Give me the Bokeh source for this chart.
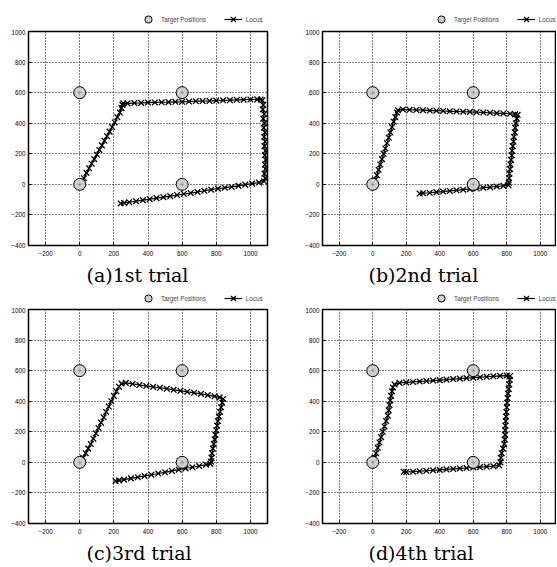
from bokeh.plotting import figure
from bokeh.layouts import column, row
from bokeh.models import FixedTicker, Legend, LegendItem, Range1d
from bokeh.embed import file_html
from bokeh.resources import INLINE

# ---------------- data ----------------
target_x = [0, 600, 0, 600]
target_y = [600, 600, 0, 0]

x_ticks = [-200, 0, 200, 400, 600, 800, 1000]
y_ticks = [-400, -200, 0, 200, 400, 600, 800, 1000]

captions = ["(a)1st trial", "(b)2nd trial", "(c)3rd trial", "(d)4th trial"]
legend_labels = ["Target Positions", "Locus"]

trial1_x = [5, 0, 10, 25, 40, 55, 70, 85, 100, 115, 130, 145, 160, 175, 190, 205, 220, 235, 245, 250, 255,
            280, 320, 360, 400, 440, 480, 520, 560, 600, 640, 680, 720, 760, 800, 840, 880, 920, 960, 1000, 1040, 1060, 1070,
            1075, 1072, 1080, 1075, 1082, 1078, 1085, 1080, 1086, 1082, 1088, 1084, 1090, 1085, 1088, 1082, 1086, 1080,
            1050, 1010, 970, 930, 890, 850, 810, 770, 730, 690, 650, 610, 570, 530, 490, 450, 410, 370, 330, 290, 260, 240]
trial1_y = [-15, -5, 10, 40, 75, 105, 135, 165, 195, 225, 255, 285, 315, 345, 375, 405, 440, 470, 500, 520, 530,
            530, 532, 533, 535, 536, 537, 538, 540, 540, 542, 544, 545, 546, 548, 550, 551, 553, 554, 555, 556, 555, 550,
            520, 490, 460, 430, 400, 370, 340, 310, 280, 250, 220, 190, 160, 130, 100, 70, 40, 20,
            12, 5, -2, -10, -17, -22, -28, -35, -42, -50, -57, -63, -70, -77, -84, -90, -97, -103, -110, -117, -122, -125]

trial2_x = [10, 0, 15, 25, 35, 45, 55, 65, 75, 85, 95, 105, 115, 125, 135, 145, 150,
            180, 220, 260, 300, 340, 380, 420, 460, 500, 540, 580, 620, 660, 700, 740, 780, 820, 850, 865,
            860, 855, 850, 848, 843, 840, 836, 832, 830, 826, 822, 820, 816, 814, 812, 810,
            780, 740, 700, 660, 620, 580, 540, 500, 460, 420, 380, 340, 300, 280]
trial2_y = [-10, 5, 30, 60, 95, 130, 165, 200, 235, 270, 305, 340, 375, 410, 440, 470, 485,
            490, 488, 487, 485, 483, 482, 480, 478, 477, 475, 474, 472, 470, 468, 466, 464, 462, 458, 455,
            430, 400, 370, 340, 310, 280, 250, 220, 190, 160, 130, 100, 70, 40, 10, -5,
            -10, -14, -18, -22, -27, -31, -35, -39, -43, -47, -51, -55, -58, -60]

trial3_x = [10, 0, 20, 35, 50, 65, 80, 95, 110, 125, 140, 155, 170, 185, 200, 215, 230, 245,
            270, 310, 350, 390, 430, 470, 510, 550, 590, 630, 670, 710, 750, 790, 820, 840,
            835, 828, 822, 815, 810, 805, 800, 795, 790, 785, 780, 775, 772, 770, 765,
            740, 700, 660, 620, 580, 540, 500, 460, 420, 380, 340, 300, 260, 230, 210]
trial3_y = [-5, 5, 30, 60, 90, 120, 155, 190, 225, 260, 295, 330, 365, 400, 435, 465, 495, 515,
            520, 513, 506, 500, 494, 488, 482, 475, 468, 462, 455, 448, 440, 432, 425, 415,
            390, 360, 330, 300, 270, 240, 210, 180, 150, 120, 90, 60, 30, 5, -10,
            -15, -24, -32, -40, -48, -56, -65, -73, -81, -89, -97, -105, -113, -118, -122]

trial4_x = [0, -5, 10, 20, 30, 40, 50, 60, 70, 80, 90, 95, 100, 105, 110, 115, 120, 130,
            160, 200, 240, 280, 320, 360, 400, 440, 480, 520, 560, 600, 640, 680, 720, 760, 800, 820,
            818, 815, 812, 808, 805, 802, 800, 798, 796, 794, 792, 790, 790, 788, 785, 778, 770, 765, 762, 755,
            720, 680, 640, 600, 560, 520, 480, 440, 400, 360, 320, 280, 240, 200, 185]
trial4_y = [-10, 5, 30, 60, 95, 130, 165, 200, 235, 270, 305, 340, 375, 405, 435, 465, 490, 510,
            520, 523, 526, 529, 532, 535, 538, 541, 545, 548, 551, 554, 557, 560, 563, 566, 568, 565,
            540, 510, 480, 450, 420, 390, 360, 330, 300, 270, 240, 210, 180, 150, 120, 90, 60, 30, 0, -20,
            -25, -28, -31, -34, -37, -40, -43, -46, -49, -52, -55, -58, -61, -63, -62]

trials = [(trial1_x, trial1_y), (trial2_x, trial2_y), (trial3_x, trial3_y), (trial4_x, trial4_y)]

# ---------------- style / layout constants ----------------
TICK_FONT = "Liberation Sans"
FRAME_H = 217
TARGET_FILL = "#cfcfcf"
GLYPH = 18


def panel_geometry(idx):
    left_col = idx % 2 == 0
    if left_col:
        return dict(lb=28, rb=30, fw=239, x_end=1100, cap_offset=58, leg_left=139)
    fw = 234
    return dict(lb=25, rb=0, fw=fw, x_end=-300 + fw / 0.1675, cap_offset=46, leg_left=135)


def make_legend_fig(idx, height, leg_bottom):
    """A thin strip above each panel that only holds that panel's legend.
    Its ranges lie far from the data, so the sample renderers stay off-view
    and only their legend swatches are drawn."""
    g = panel_geometry(idx)
    w = g["lb"] + g["fw"] + g["rb"]
    f = figure(width=w, height=height, x_range=Range1d(5000, 5000 + w), y_range=Range1d(5000, 5000 + height),
               x_axis_type=None, y_axis_type=None, output_backend="svg", toolbar_location=None,
               min_border=0, min_border_left=0, min_border_right=0,
               min_border_top=0, min_border_bottom=0)
    f.outline_line_color = None
    f.background_fill_color = "white"
    f.border_fill_color = "white"
    lx, ly = trials[idx]
    tg = f.scatter(target_x, target_y, marker="circle", size=12, fill_color=TARGET_FILL,
                   line_color="black", line_width=1)
    ln = f.line(lx, ly, line_color="black", line_width=1.2)
    mk = f.scatter(lx, ly, marker="x", size=7, line_color="black", line_width=1.2)
    legend = Legend(items=[LegendItem(label=legend_labels[0], renderers=[tg]),
                           LegendItem(label=legend_labels[1], renderers=[ln, mk])],
                    orientation="horizontal",
                    location=(g["leg_left"], leg_bottom),
                    glyph_width=GLYPH, glyph_height=GLYPH, label_standoff=4, spacing=18,
                    padding=0, margin=0,
                    label_text_font=TICK_FONT, label_text_font_size="6.3px",
                    label_height=12,
                    border_line_color=None, background_fill_alpha=0)
    f.add_layout(legend, "center")
    return f


def make_panel(idx, bottom_border):
    lx, ly = trials[idx]
    g = panel_geometry(idx)
    top_border = 2
    p = figure(width=g["lb"] + g["fw"] + g["rb"], height=top_border + FRAME_H + bottom_border,
               x_range=Range1d(-300, g["x_end"]), y_range=Range1d(-400, 1000),
               output_backend="svg", toolbar_location=None,
               min_border_left=g["lb"], min_border_right=g["rb"],
               min_border_top=top_border, min_border_bottom=bottom_border,
               title=captions[idx], title_location="below")
    p.title.text_font = "DejaVu Serif"
    p.title.text_font_size = "19px"
    p.title.text_font_style = "normal"
    p.title.text_color = "black"
    p.title.align = "left"
    p.title.offset = g["cap_offset"]
    p.title.standoff = 7

    p.background_fill_color = "white"
    p.border_fill_color = "white"
    p.outline_line_color = "black"
    p.outline_line_width = 1.5

    p.xaxis.ticker = FixedTicker(ticks=x_ticks)
    p.yaxis.ticker = FixedTicker(ticks=y_ticks)
    for ax in (p.xaxis[0], p.yaxis[0]):
        ax.axis_line_color = None
        ax.major_tick_in = 3
        ax.major_tick_out = 0
        ax.major_tick_line_color = "black"
        ax.minor_tick_line_color = None
        ax.major_label_text_font = TICK_FONT
        ax.major_label_text_font_size = "6.3px"
        ax.major_label_text_color = "black"
    p.xaxis.major_label_standoff = 5
    p.yaxis.major_label_standoff = 3

    p.grid.grid_line_color = "black"
    p.grid.grid_line_dash = "1 2"
    p.grid.grid_line_width = 1
    p.grid.grid_line_alpha = 1.0

    # locus
    p.line(lx, ly, line_color="black", line_width=1.2)
    p.scatter(lx, ly, marker="x", size=8, line_color="black", line_width=1.3)
    # targets
    p.scatter(target_x, target_y, marker="circle", size=12, fill_color=TARGET_FILL,
              line_color="black", line_width=1)
    p.scatter(target_x, target_y, marker="cross", size=4, line_color="#888888", line_width=0.8)
    return p


la = make_legend_fig(0, 29, 1)
lb_ = make_legend_fig(1, 29, 1)
pa = make_panel(0, 41)
pb = make_panel(1, 41)
lc = make_legend_fig(2, 18, 0)
ld = make_legend_fig(3, 18, 0)
pc = make_panel(2, 41)
pd = make_panel(3, 41)

layout = column(row(la, lb_), row(pa, pb), row(lc, ld), row(pc, pd))

open("out.html", "w").write(file_html(layout, INLINE))
